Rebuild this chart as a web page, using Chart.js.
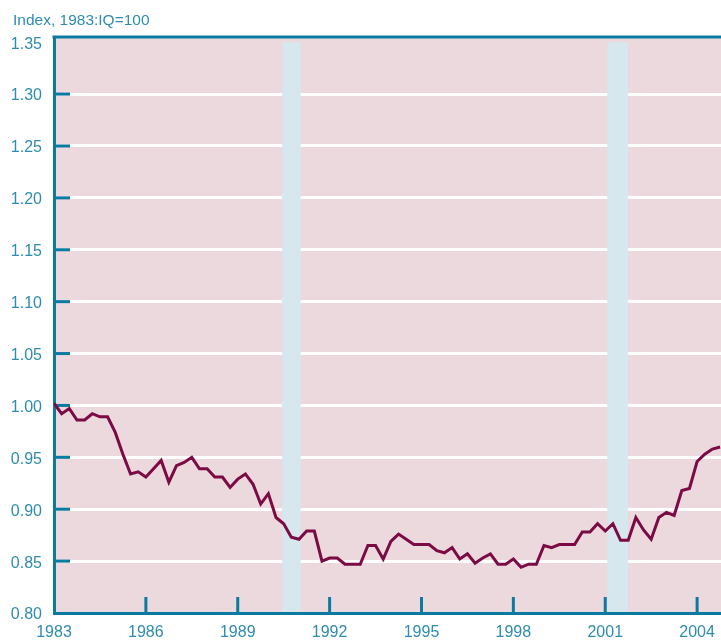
<!DOCTYPE html>
<html><head><meta charset="utf-8">
<script src="https://cdn.jsdelivr.net/npm/chart.js@4/dist/chart.umd.min.js"></script>
<style>html,body{margin:0;padding:0;background:#fff;}#wrap{width:721px;height:641px;position:relative;}</style>
</head><body><div id="wrap"><canvas id="c"></canvas></div>
<script>
// ---- data ----
const startYear = 1983; // first quarter 1983:Q1
const indexValues = [
  1.002, 0.992, 0.997, 0.986, 0.986, 0.992, 0.989, 0.989,
  0.974, 0.953, 0.934, 0.936, 0.931, 0.939, 0.947, 0.926,
  0.942, 0.945, 0.950, 0.939, 0.939, 0.931, 0.931, 0.921,
  0.929, 0.934, 0.924, 0.905, 0.915, 0.892, 0.886, 0.873,
  0.871, 0.879, 0.879, 0.850, 0.853, 0.853, 0.847, 0.847,
  0.847, 0.865, 0.865, 0.852, 0.869, 0.876, 0.871, 0.866,
  0.866, 0.866, 0.860, 0.858, 0.863, 0.852, 0.857, 0.848,
  0.853, 0.857, 0.847, 0.847, 0.852, 0.844, 0.847, 0.847,
  0.865, 0.863, 0.866, 0.866, 0.866, 0.878, 0.878, 0.886,
  0.879, 0.886, 0.870, 0.870, 0.892, 0.880, 0.871, 0.892,
  0.897, 0.894, 0.918, 0.920, 0.946, 0.953, 0.958, 0.960
];
const recessionStart = [1990.45, 2001.07];
const recessionEnd   = [1991.05, 2001.74];
const yTicks = [0.80, 0.85, 0.90, 0.95, 1.00, 1.05, 1.10, 1.15, 1.20, 1.25, 1.30, 1.35];
const xTicks = [1983, 1986, 1989, 1992, 1995, 1998, 2001, 2004];
const titleText = 'Index, 1983:IQ=100';

// ---- style ----
const FONT = "'Liberation Sans', Arial, sans-serif";
const LABEL = '#2e8cb0';
const AXIS = '#0b7aa0';
const PINK = '#ecd9dd';
const BAR = '#d6e7ee';
const LINE = '#7b0a45';

const points = indexValues.map((v, i) => ({ x: startYear + i / 4, y: v }));

const decor = {
  id: 'decor',
  afterLayout(chart) {
    if (chart.titleBlock) { chart.titleBlock.left = 13; chart.titleBlock.right = chart.width; }
  },
  beforeDraw(chart) {
    const { ctx, chartArea: a } = chart;
    ctx.save();
    ctx.fillStyle = PINK;
    ctx.fillRect(a.left, a.top, a.right - a.left, a.bottom - a.top);
    ctx.restore();
  },
  beforeDatasetsDraw(chart) {
    const { ctx, chartArea: a, scales: { x, y } } = chart;
    ctx.save();
    ctx.fillStyle = BAR;
    const yTop = y.getPixelForValue(1.35);
    for (let i = 0; i < recessionStart.length; i++) {
      const x0 = x.getPixelForValue(recessionStart[i]);
      const x1 = x.getPixelForValue(recessionEnd[i]);
      ctx.fillRect(x0, yTop, x1 - x0, a.bottom - 1.5 - yTop);
    }
    ctx.strokeStyle = AXIS;
    ctx.lineWidth = 3;
    yTicks.forEach(v => {
      if (v <= 0.801 || v >= 1.349) return;
      const py = y.getPixelForValue(v);
      ctx.beginPath(); ctx.moveTo(a.left, py); ctx.lineTo(a.left + 16, py); ctx.stroke();
    });
    xTicks.forEach(v => {
      if (v === startYear) return;
      const px = x.getPixelForValue(v);
      ctx.beginPath(); ctx.moveTo(px, a.bottom); ctx.lineTo(px, a.bottom - 16); ctx.stroke();
    });
    ctx.beginPath(); ctx.moveTo(a.left - 1.5, a.top); ctx.lineTo(a.right, a.top); ctx.stroke();
    ctx.restore();
  }
};

new Chart(document.getElementById('c'), {
  type: 'line',
  data: {
    datasets: [{
      data: points,
      borderColor: LINE,
      borderWidth: 3,
      pointRadius: 0,
      tension: 0,
      fill: false,
      borderJoinStyle: 'miter'
    }]
  },
  options: {
    responsive: true,
    maintainAspectRatio: false,
    devicePixelRatio: 1,
    animation: false,
    layout: { padding: 0 },
    plugins: {
      legend: { display: false },
      tooltip: { enabled: false },
      title: {
        display: true,
        text: titleText,
        align: 'start',
        color: LABEL,
        font: { family: FONT, size: 15.5, weight: 'normal', lineHeight: 1.2 },
        padding: { top: 11.4, bottom: 7 }
      }
    },
    scales: {
      x: {
        type: 'linear',
        min: 1983,
        max: 2004.78,
        afterFit(s) { s.height = 28; s.paddingLeft = 0; s.paddingRight = 0; },
        afterBuildTicks(s) { s.ticks = xTicks.map(v => ({ value: v })); },
        ticks: {
          includeBounds: false,
          autoSkip: false,
          maxRotation: 0,
          padding: 10,
          color: LABEL,
          font: { family: FONT, size: 16 },
          callback: v => String(v)
        },
        grid: { display: true, color: 'rgba(0,0,0,0)', drawTicks: false },
        border: { display: true, color: AXIS, width: 3 }
      },
      y: {
        type: 'linear',
        min: 0.8,
        max: 1.355,
        afterFit(s) { s.width = 54; s.paddingTop = 0; s.paddingBottom = 0; },
        afterBuildTicks(s) { s.ticks = yTicks.map(v => ({ value: v })); },
        ticks: {
          includeBounds: false,
          autoSkip: false,
          padding: 12,
          labelOffset: 2,
          color: LABEL,
          font: { family: FONT, size: 16 },
          callback: v => Number(v).toFixed(2)
        },
        grid: {
          color: c => (c.tick && (c.tick.value <= 0.801 || c.tick.value >= 1.349)) ? 'rgba(0,0,0,0)' : '#ffffff',
          lineWidth: 3,
          drawTicks: false
        },
        border: { display: true, color: AXIS, width: 3 }
      }
    }
  },
  plugins: [decor]
});
</script>
</body></html>
